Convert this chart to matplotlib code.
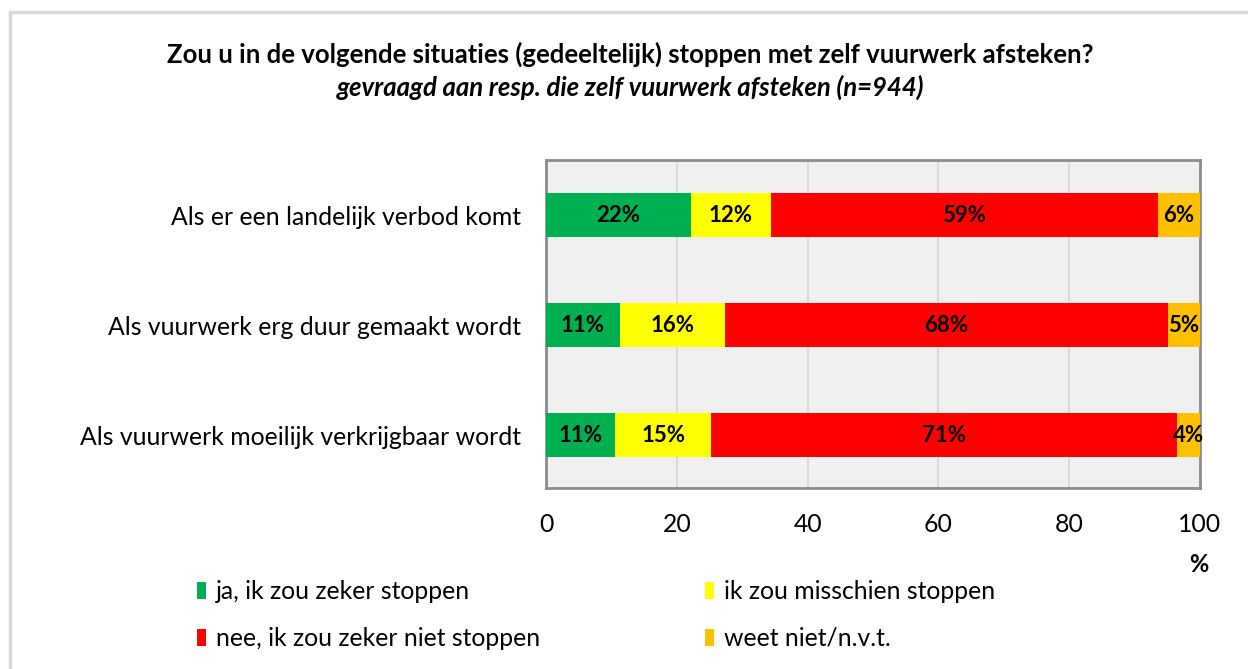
import matplotlib.pyplot as plt
import matplotlib.patches as mpatches
import numpy as np

plt.rcParams['font.family'] = ['Lato', 'DejaVu Sans']

# data (percentages)
situaties = ['Als er een landelijk verbod komt',
             'Als vuurwerk erg duur gemaakt wordt',
             'Als vuurwerk moeilijk verkrijgbaar wordt']
ja_zeker = [22.1, 11.3, 10.6]
misschien = [12.3, 16.0, 14.6]
nee_zeker = [59.2, 67.8, 71.3]
weet_niet = [6.4, 4.9, 3.5]

series = [ja_zeker, misschien, nee_zeker, weet_niet]
namen = ['ja, ik zou zeker stoppen', 'ik zou misschien stoppen',
         'nee, ik zou zeker niet stoppen', 'weet niet/n.v.t.']
kleuren = ['#00b050', '#ffff00', '#ff0000', '#ffc000']
xticks = [0, 20, 40, 60, 80, 100]

fig = plt.figure(figsize=(12.48, 6.69), dpi=100)

# outer chart border (light grey)
fig.patches.append(mpatches.Rectangle((10/1248, -0.05), 1.1, 1 - 12/669 + 0.05,
                                      transform=fig.transFigure, fill=False,
                                      edgecolor='#d9d9d9', lw=2.5))

ax = fig.add_axes([546/1248, 1 - 488/669, 654/1248, 328/669])
ax.set_facecolor('#f0f0f0')

y = np.arange(len(situaties))
links = np.zeros(len(situaties))
for waarden, kleur, naam in zip(series, kleuren, namen):
    bars = ax.barh(y, waarden, left=links, height=0.4, color=kleur, label=naam, zorder=3)
    for b, w in zip(bars, waarden):
        ax.text(b.get_x() + b.get_width() / 2, b.get_y() + b.get_height() / 2,
                f'{round(w):.0f}%', ha='center', va='center',
                fontsize=16, fontweight='bold', zorder=4)
    links += np.array(waarden)

ax.set_xlim(0, 100)
ax.set_ylim(2.48, -0.5)
ax.set_xticks(xticks)
ax.set_yticks(y)
ax.set_yticklabels(situaties)
ax.tick_params(axis='y', length=0, pad=18, labelsize=17.8)
ax.tick_params(axis='x', length=0, pad=18, labelsize=17.8)
ax.grid(axis='x', color='#d9d9d9', lw=1.5, zorder=1)
for s in ax.spines.values():
    s.set_color('#8c8c8c')
    s.set_linewidth(2)

fig.text(1199/1248, 1 - 565/669, '%', ha='center', va='center',
         fontsize=17, fontweight='bold')

fig.text(630/1248, 1 - 54/669,
         'Zou u in de volgende situaties (gedeeltelijk) stoppen met zelf vuurwerk afsteken?',
         ha='center', va='center', fontsize=18.5, fontweight='bold')
fig.text(631/1248, 1 - 87/669, 'gevraagd aan resp. die zelf vuurwerk afsteken (n=944)',
         ha='center', va='center', fontsize=18.5, fontweight='bold', style='italic')

handles, labels = ax.get_legend_handles_labels()
order = [0, 2, 1, 3]
fig.legend([handles[i] for i in order], [labels[i] for i in order], ncol=2,
           loc='upper left', bbox_to_anchor=(197/1248, 1 - 580/669), frameon=False,
           fontsize=17.8, handlelength=0.35, handleheight=0.65, handletextpad=0.4,
           columnspacing=6.7, labelspacing=0.97, borderaxespad=0, borderpad=0)

fig.savefig('out.png', dpi=100)
